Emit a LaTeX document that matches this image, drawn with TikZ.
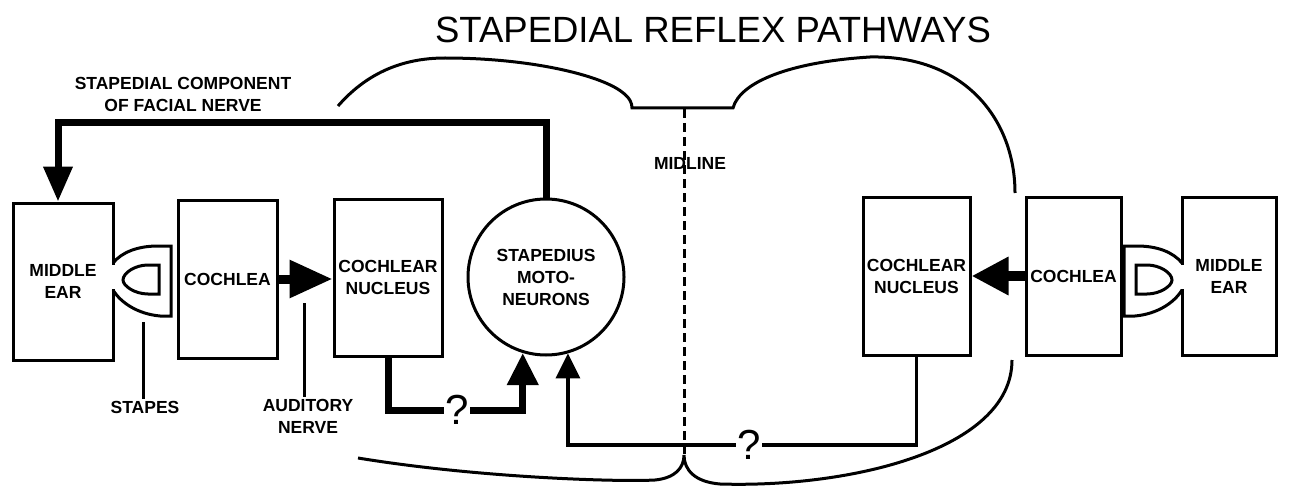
\documentclass[tikz,border=0pt]{standalone}
\usepackage{fontspec}
\setmainfont{Liberation Sans}
\usetikzlibrary{arrows.meta}
\begin{document}
\begin{tikzpicture}[x=1pt,y=-1pt,
  lab/.style={font=\fontsize{17.5}{22}\selectfont\bfseries, align=center, inner sep=2pt},
  blk/.style={draw, line width=3pt, lab, inner sep=0pt},
  outline/.style={line width=3pt},
  heavy/.style={line width=7pt},
  light/.style={line width=3.5pt},
  qmark/.style={font=\fontsize{42}{42}\selectfont, inner sep=1.5pt},
  midl/.style={line width=3pt, dash pattern=on 9pt off 5pt}
]
\useasboundingbox (0,0) rectangle (1316,492);

% title
\node[font=\fontsize{36.5}{40}\selectfont] (title) at (713,30) {STAPEDIAL REFLEX PATHWAYS};

% brain outline
\draw[outline] (338,106) .. controls (365,75) and (400,58) .. (445,58)
  .. controls (530,58) and (600,75) .. (622,92)
  .. controls (630,98) and (632,103) .. (632,108) -- (733,108)
  .. controls (740,82) and (790,62) .. (870,57)
  .. controls (965,55) and (1015,120) .. (1015,193);
\draw[outline] (358,458) .. controls (480,478) and (620,482) .. (655,480)
  .. controls (675,478) and (684,468) .. (684,455)
  .. controls (684,470) and (695,482) .. (720,484)
  .. controls (850,488) and (1012,450) .. (1012,360);
\draw[midl] (684,109) -- (684,455);
\node[lab] (lblMid) at (690,163) {MIDLINE};

% blocks
\node[blk, minimum width=100pt, minimum height=157pt] (meL) at (63,281.5) {MIDDLE\\EAR};
\node[blk, minimum width=99pt, minimum height=158pt] (coL) at (227.5,279) {COCHLEA};
\node[blk, minimum width=108pt, minimum height=157pt] (nucL) at (388,277.5) {COCHLEAR\\NUCLEUS};
\node[blk, circle, minimum size=156pt] (mn) at (546,277) {STAPEDIUS\\MOTO-\\NEURONS};
\node[blk, minimum width=107pt, minimum height=158pt] (nucR) at (916.5,276) {COCHLEAR\\NUCLEUS};
\node[blk, minimum width=95pt, minimum height=158pt] (coR) at (1073.5,276) {COCHLEA};
\node[blk, minimum width=94pt, minimum height=158pt] (meR) at (1229,276) {MIDDLE\\EAR};

% stapes (left and mirrored right)
\foreach \sx/\sh in {1/0, -1/1295}{
\begin{scope}[xshift=\sh pt, xscale=\sx]
  \fill[white] (110,264.5) rectangle (117,289);
  \draw[outline] (113,263) .. controls (122,252) and (138,246) .. (158,246)
     -- (171,246) -- (171,316) -- (160,316)
     .. controls (138,314) and (121,303) .. (113,290);
  \draw[outline] (159,265) -- (159,294) -- (148,294)
     .. controls (135,294) and (123,286) .. (123,280)
     .. controls (123,273) and (135,265) .. (148,265) -- cycle;
\end{scope}}

% auditory nerve arrows
\draw[line width=9pt, -{Triangle[width=36pt,length=43pt]}] (coL.east) -- (coL.east -| nucL.west);
\draw[line width=10pt, -{Triangle[width=36pt,length=37pt]}] (coR.west) -- (coR.west -| nucR.east);

% facial nerve
\coordinate (fn) at (58,123);
\draw[heavy, -{Triangle[width=28pt,length=35pt]}] (mn.north) |- (fn) -- (meL.north -| fn);
\node[lab] (lblFN) at (183,94) {STAPEDIAL COMPONENT\\OF FACIAL NERVE};

% ipsilateral path
\node[qmark] (qa) at (457,410) {?};
\draw[heavy] (nucL.south) |- (qa.west);
\draw[heavy, -{Triangle[width=30pt,length=32pt]}] (qa.east) -| (mn.253);

% contralateral path
\node[qmark] (qb) at (749,445) {?};
\draw[light] (nucR.south) |- (qb.east);
\draw[light, -{Triangle[width=24pt,length=25pt]}] (qb.west) -| (mn.286);

% pointer labels
\node[lab] (lblS) at (145,407) {STAPES};
\coordinate (sp) at (143,322);
\draw[outline] (lblS.north -| sp) -- (sp);
\node[lab] (lblA) at (308,416) {AUDITORY\\NERVE};
\coordinate (an) at (304,303);
\draw[outline] (lblA.north -| an) -- (an);
\end{tikzpicture}
\end{document}
